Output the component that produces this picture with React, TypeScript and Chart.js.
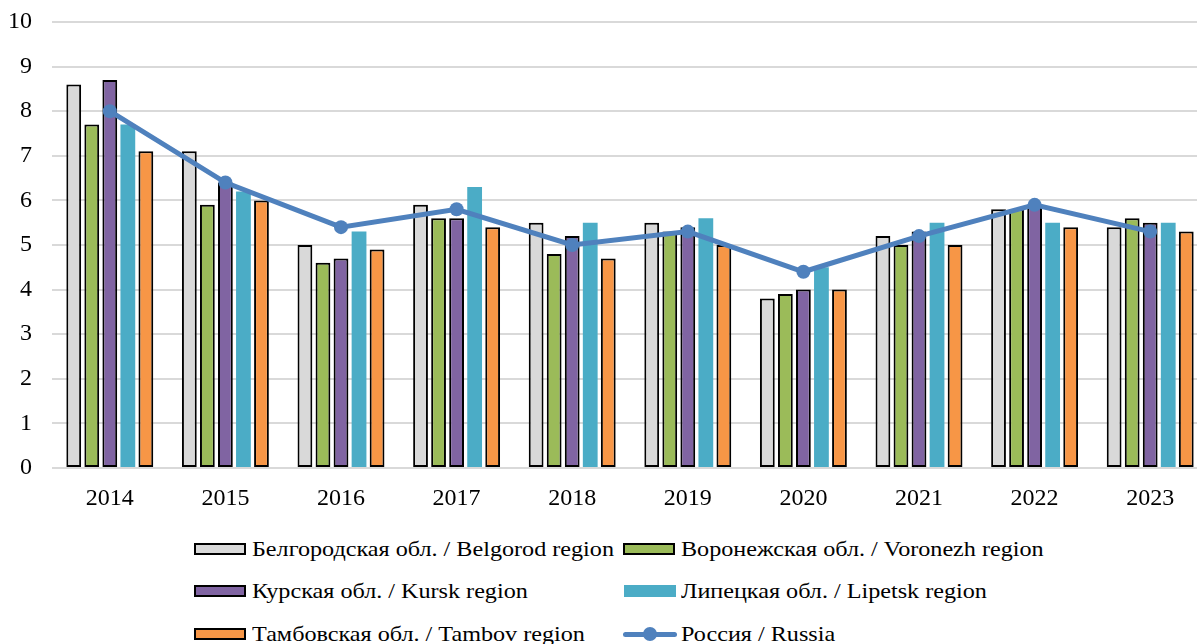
import React, { useEffect, useRef } from "react";
import { Chart, registerables } from "chart.js";

Chart.register(...registerables);

const years = ["2014", "2015", "2016", "2017", "2018", "2019", "2020", "2021", "2022", "2023"];
const belgorod = [8.6, 7.1, 5.0, 5.9, 5.5, 5.5, 3.8, 5.2, 5.8, 5.4];
const voronezh = [7.7, 5.9, 4.6, 5.6, 4.8, 5.3, 3.9, 5.0, 5.8, 5.6];
const kursk = [8.7, 6.4, 4.7, 5.6, 5.2, 5.4, 4.0, 5.3, 5.9, 5.5];
const lipetsk = [7.7, 6.2, 5.3, 6.3, 5.5, 5.6, 4.5, 5.5, 5.5, 5.5];
const tambov = [7.1, 6.0, 4.9, 5.4, 4.7, 5.0, 4.0, 5.0, 5.4, 5.3];
const russia = [8.0, 6.4, 5.4, 5.8, 5.0, 5.3, 4.4, 5.2, 5.9, 5.3];

const labelBelgorod = "Белгородская обл. / Belgorod region";
const labelVoronezh = "Воронежская обл. / Voronezh region";
const labelKursk = "Курская обл. / Kursk region";
const labelLipetsk = "Липецкая обл. / Lipetsk region";
const labelTambov = "Тамбовская обл. / Tambov region";
const labelRussia = "Россия / Russia";

const FONT = "\"Liberation Serif\", \"Times New Roman\", serif";

const C_GREY = "#D9D9D9";
const C_GREEN = "#9BBB59";
const C_PURPLE = "#8064A2";
const C_TEAL = "#4BACC6";
const C_ORANGE = "#F79646";
const C_LINE = "#4F81BD";

type LegendItem = { label: string; color: string; kind: "box" | "flat" | "line"; x: number; y: number };

const legendItems: LegendItem[] = [
  { label: labelBelgorod, color: C_GREY, kind: "box", x: 194, y: 549 },
  { label: labelVoronezh, color: C_GREEN, kind: "box", x: 623, y: 549 },
  { label: labelKursk, color: C_PURPLE, kind: "box", x: 194, y: 591 },
  { label: labelLipetsk, color: C_TEAL, kind: "flat", x: 623, y: 591 },
  { label: labelTambov, color: C_ORANGE, kind: "box", x: 194, y: 634 },
  { label: labelRussia, color: C_LINE, kind: "line", x: 623, y: 634 },
];

export default function App() {
  const ref = useRef<HTMLCanvasElement | null>(null);

  useEffect(() => {
    if (!ref.current) return;
    const barCommon = {
      borderColor: "#000000",
      borderWidth: 2,
      borderSkipped: false as const,
      order: 1,
      barPercentage: 0.82,
      categoryPercentage: 0.78,
    };
    const chart = new Chart(ref.current, {
      type: "bar",
      data: {
        labels: years,
        datasets: [
          { ...barCommon, type: "bar", label: labelBelgorod, data: belgorod, backgroundColor: C_GREY },
          { ...barCommon, type: "bar", label: labelVoronezh, data: voronezh, backgroundColor: C_GREEN },
          { ...barCommon, type: "bar", label: labelKursk, data: kursk, backgroundColor: C_PURPLE },
          { ...barCommon, type: "bar", label: labelLipetsk, data: lipetsk, backgroundColor: C_TEAL, borderWidth: 0 },
          { ...barCommon, type: "bar", label: labelTambov, data: tambov, backgroundColor: C_ORANGE },
          {
            type: "line",
            label: labelRussia,
            data: russia,
            borderColor: C_LINE,
            backgroundColor: C_LINE,
            borderWidth: 5,
            pointRadius: 7,
            pointBorderWidth: 0,
            pointBackgroundColor: C_LINE,
            tension: 0,
            order: 0,
          } as any,
        ],
      },
      options: {
        responsive: false,
        animation: false,
        layout: { padding: { top: 22, left: 0, right: 4, bottom: 0 } },
        plugins: { legend: { display: false }, tooltip: { enabled: false } },
        scales: {
          x: {
            grid: { display: false, drawTicks: false },
            border: { display: false },
            ticks: { color: "#000", font: { family: FONT, size: 24 }, padding: 16 },
            afterFit: (s: any) => {
              s.height = 52;
              s.paddingLeft = 0;
              s.paddingRight = 0;
            },
          },
          y: {
            min: 0,
            max: 10,
            ticks: { stepSize: 1, color: "#000", font: { family: FONT, size: 24 }, padding: 20 },
            grid: { color: "#D9D9D9", lineWidth: 2, drawTicks: false },
            border: { display: false },
            afterFit: (s: any) => {
              s.width = 52;
              s.paddingTop = 0;
              s.paddingBottom = 0;
            },
          },
        },
      },
    });
    return () => chart.destroy();
  }, []);

  return (
    <div
      style={{
        position: "absolute",
        left: 0,
        top: 0,
        width: 1197,
        height: 644,
        overflow: "hidden",
        background: "#fff",
      }}
    >
      <canvas
        ref={ref}
        width={1215}
        height={520}
        style={{ position: "absolute", left: 0, top: 0, width: 1215, height: 520 }}
      />
      {legendItems.map((it) => (
        <div
          key={it.label}
          style={{
            position: "absolute",
            left: it.x,
            top: it.y - 15,
            height: 30,
            display: "flex",
            alignItems: "center",
            whiteSpace: "nowrap",
            fontFamily: FONT,
            fontSize: 21,
            color: "#000",
          }}
        >
          <div style={{ position: "relative", width: 52, height: 30, marginRight: 6, flex: "none" }}>
            {it.kind === "box" && (
              <div
                style={{
                  position: "absolute",
                  left: 0,
                  top: 9,
                  width: 52,
                  height: 12,
                  boxSizing: "border-box",
                  border: "2px solid #000",
                  background: it.color,
                }}
              />
            )}
            {it.kind === "flat" && (
              <div style={{ position: "absolute", left: 1, top: 9, width: 52, height: 12, background: it.color }} />
            )}
            {it.kind === "line" && (
              <>
                <div style={{ position: "absolute", left: 0, top: 13, width: 54, height: 5, borderRadius: 3, background: it.color }} />
                <div style={{ position: "absolute", left: 20, top: 8, width: 14, height: 14, borderRadius: 7, background: it.color }} />
              </>
            )}
          </div>
          <span style={{ display: "inline-block", transform: "scaleX(1.15)", transformOrigin: "left center" }}>
            {it.label}
          </span>
        </div>
      ))}
    </div>
  );
}
